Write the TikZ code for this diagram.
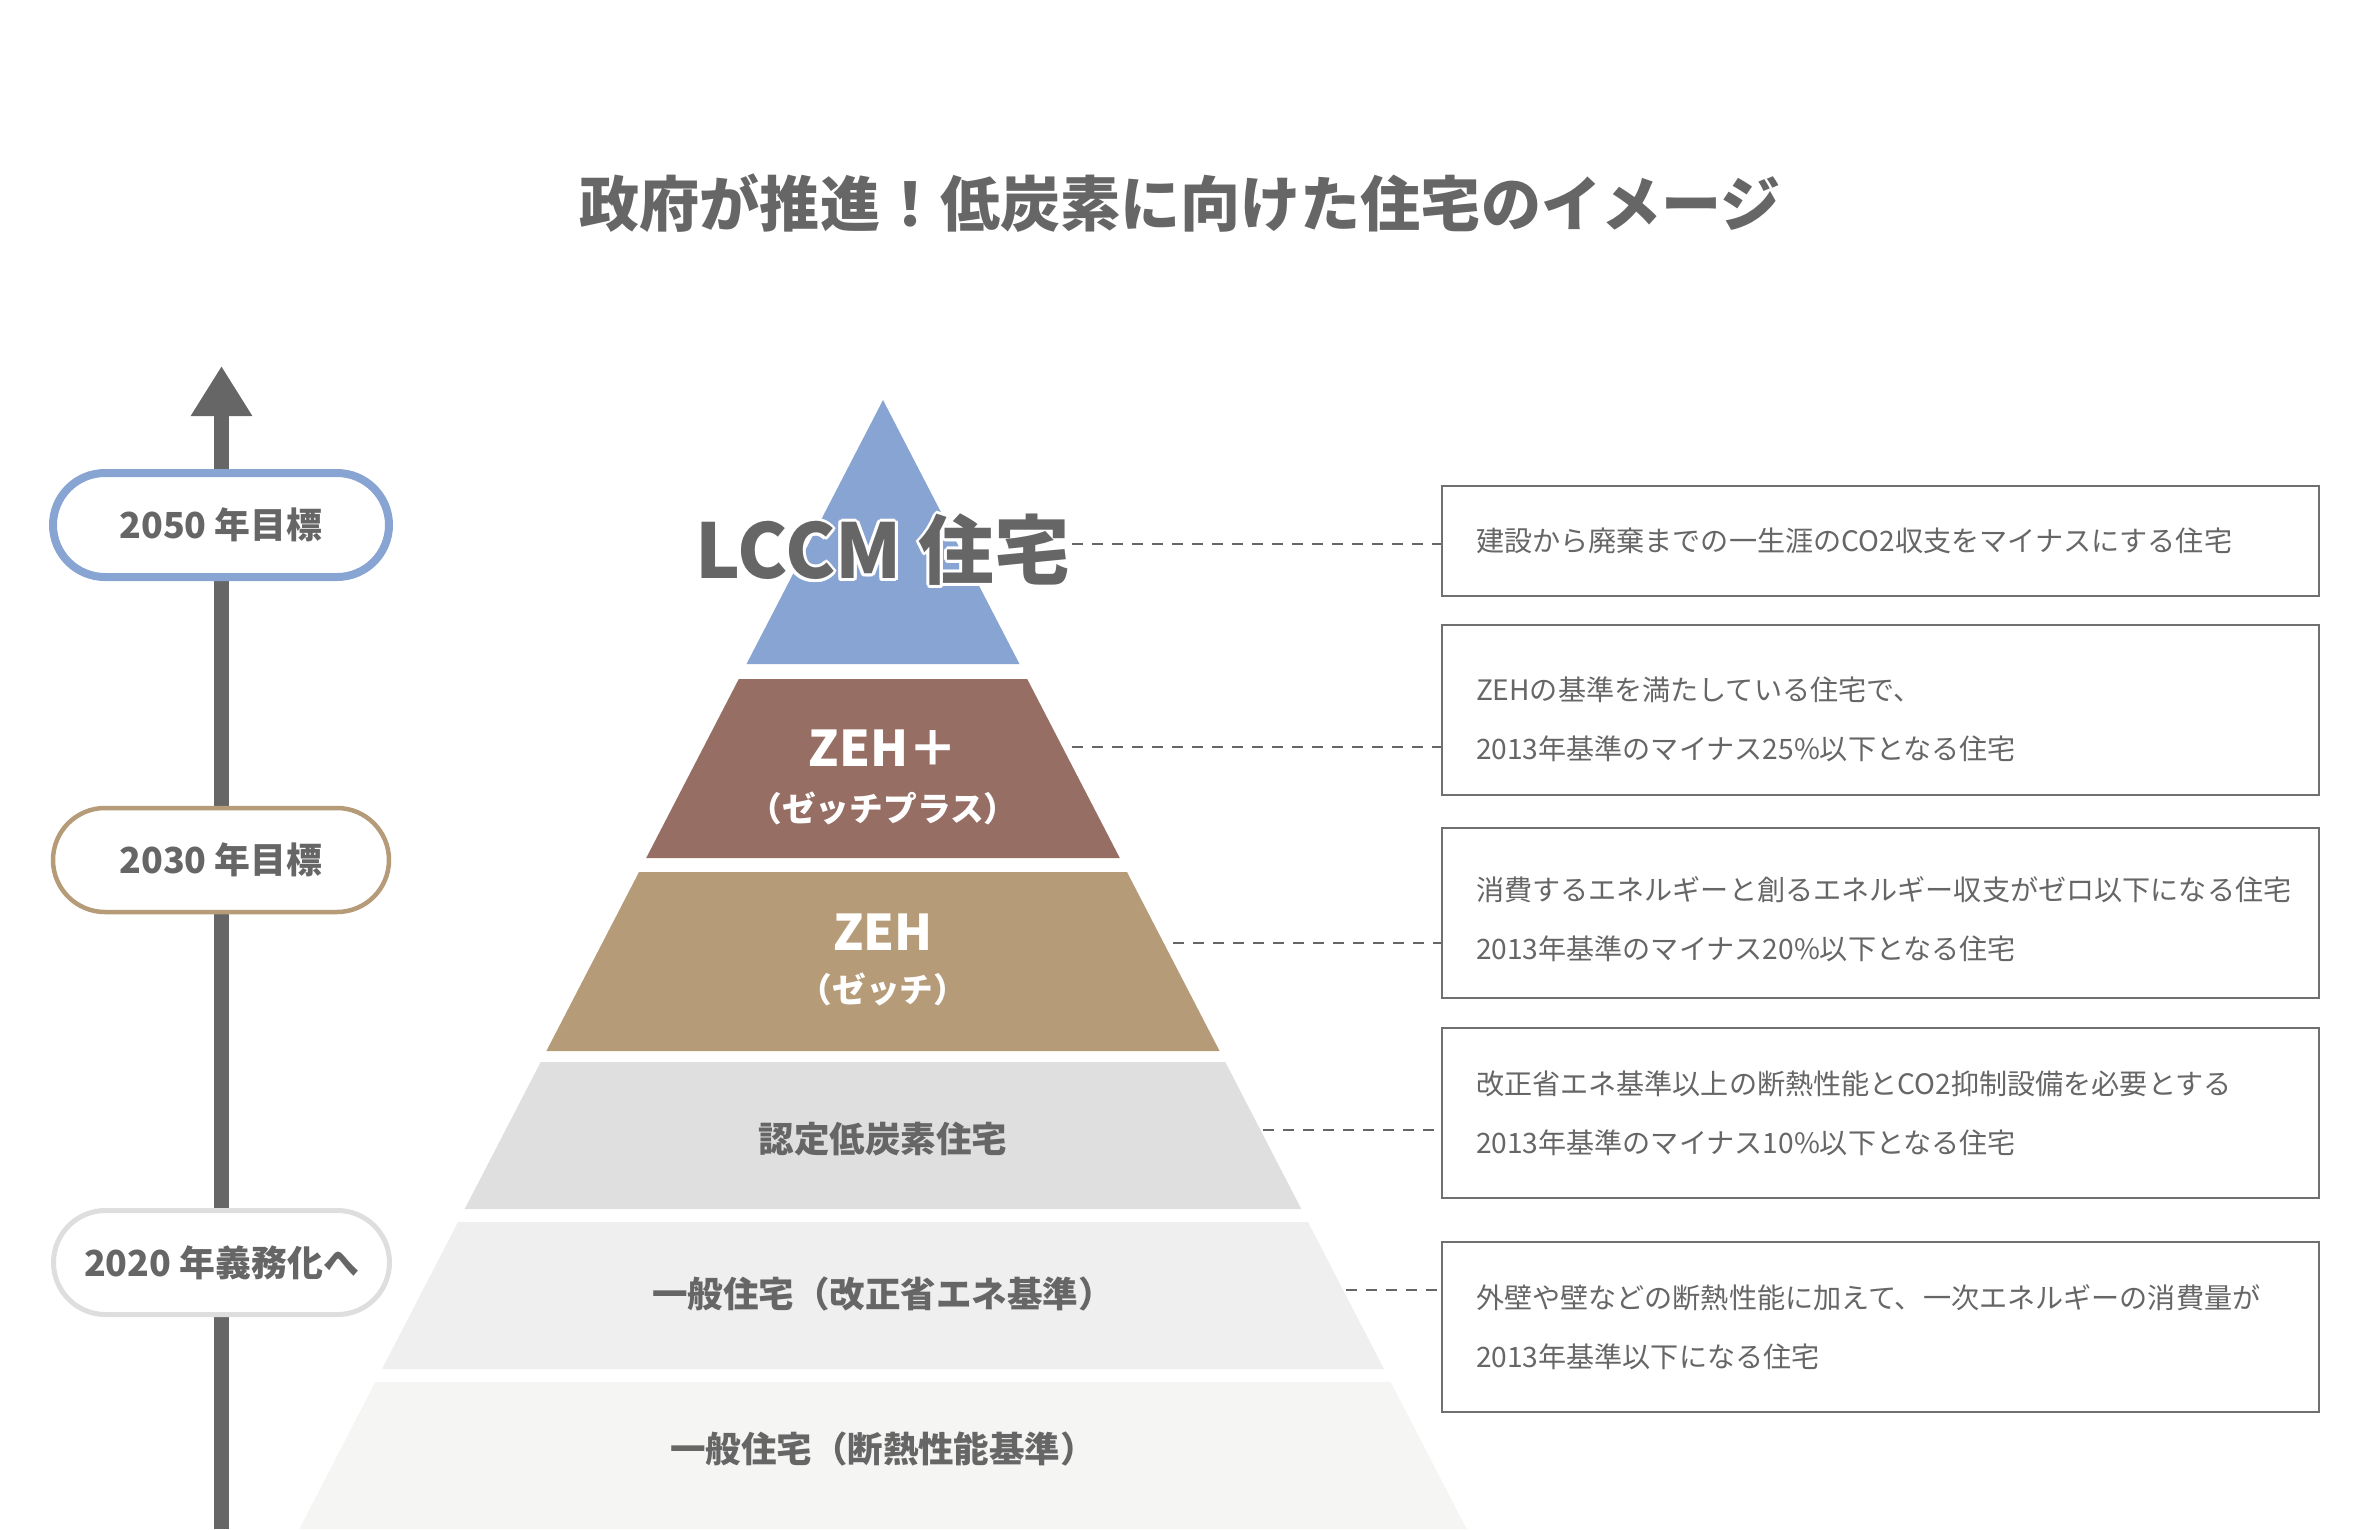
\documentclass[tikz,border=0pt]{standalone}
\usepackage{fontspec}
\setmainfont{Noto Sans CJK JP}
\usetikzlibrary{arrows.meta}

\definecolor{textgray}{HTML}{666666}
\definecolor{boxgray}{HTML}{707070}
\definecolor{lccmblue}{HTML}{88A4D2}
\definecolor{zehbrown}{HTML}{966E64}
\definecolor{zehtan}{HTML}{B59B78}
\definecolor{nintei}{HTML}{DFDFDF}
\definecolor{kaisei}{HTML}{EFEFEF}
\definecolor{dannetsu}{HTML}{F5F5F3}
\definecolor{pillgray}{HTML}{DEDEDE}

\begin{document}
\begin{tikzpicture}[
  every node/.style={align=center, inner sep=2pt},
  titletxt/.style={font=\fontsize{17.1}{20}\selectfont\bfseries, text=textgray},
  axisline/.style={draw=textgray, line width=0.15cm,
                   -{Triangle[width=0.58cm, length=0.50cm]}},
  pill/.style={rectangle, rounded corners=0.52cm, fill=white,
               minimum width=3.36cm, minimum height=1.04cm,
               font=\fontsize{10.2}{12}\selectfont\bfseries, text=textgray},
  bigtxt/.style={font=\fontsize{21.5}{24}\selectfont\bfseries, text=textgray},
  zehtxt/.style={font=\fontsize{14}{16}\selectfont\bfseries, text=white},
  subtxt/.style={font=\fontsize{9.6}{11}\selectfont\bfseries, text=white},
  layertxt/.style={font=\fontsize{10.1}{12}\selectfont\bfseries, text=textgray},
  descbox/.style={rectangle, draw=boxgray, line width=0.028cm, fill=white,
                  minimum width=8.77cm, minimum height=1.70cm,
                  text width=8.09cm, inner xsep=0.34cm, align=left,
                  font=\fontsize{8.0}{16.8}\selectfont, text=textgray},
  leader/.style={draw=textgray, line width=0.025cm,
                 dash pattern=on 0.11cm off 0.09cm}
]
\useasboundingbox (0,0) rectangle (23.6,-15.29);

% TITLE
\node[titletxt] (title) at (11.80,-2.03) {政府が推進！低炭素に向けた住宅のイメージ};

% TIME AXIS
\coordinate (axisbot) at (2.215,-15.29);
\coordinate (axistop) at (2.215,-3.66);
\draw[axisline] (axisbot) -- (axistop);

\node[pill, draw=lccmblue, line width=0.08cm] (p2050) at (2.21,-5.25) {2050 年目標};
\node[pill, draw=zehtan, line width=0.045cm] (p2030) at (2.21,-8.60) {2030 年目標};
\node[pill, draw=pillgray, line width=0.05cm] (p2020) at (2.215,-12.625) {2020 年義務化へ};

% PYRAMID
\fill[lccmblue] (8.83,-4.00) -- (10.195,-6.64) -- (7.465,-6.64) -- cycle;
\fill[zehbrown] (7.388,-6.79) -- (10.272,-6.79) -- (11.198,-8.58) -- (6.462,-8.58) -- cycle;
\fill[zehtan] (6.390,-8.72) -- (11.270,-8.72) -- (12.196,-10.51) -- (5.464,-10.51) -- cycle;
\fill[nintei] (5.407,-10.62) -- (12.253,-10.62) -- (13.013,-12.09) -- (4.647,-12.09) -- cycle;
\fill[kaisei] (4.580,-12.22) -- (13.080,-12.22) -- (13.840,-13.69) -- (3.820,-13.69) -- cycle;
\fill[dannetsu] (3.753,-13.82) -- (13.907,-13.82) -- (14.667,-15.29) -- (2.993,-15.29) -- cycle;

% LAYER LABELS
\foreach \ang in {0,30,...,330}
  \node[bigtxt, text=white, shift={(\ang:0.03)}] (halo\ang) at (8.83,-5.50) {LCCM 住宅};
\node[bigtxt] (lccm) at (8.83,-5.50) {LCCM 住宅};
\node[zehtxt] (zehp) at (8.83,-7.48) {ZEH＋};
\node[subtxt] (zehpsub) at (8.83,-8.08) {（ゼッチプラス）};
\node[zehtxt] (zeh) at (8.83,-9.32) {ZEH};
\node[subtxt] (zehsub) at (8.83,-9.89) {（ゼッチ）};
\node[layertxt] (ninteilbl) at (8.83,-11.39) {認定低炭素住宅};
\node[layertxt] (kaiseilbl) at (8.83,-12.94) {一般住宅（改正省エネ基準）};
\node[layertxt] (dannetsulbl) at (8.83,-14.49) {一般住宅（断熱性能基準）};

% DESCRIPTION BOXES
\node[descbox, minimum height=1.10cm] (box1) at (18.805,-5.41) {建設から廃棄までの一生涯のCO2収支をマイナスにする住宅};
\node[descbox] (box2) at (18.805,-7.10) {\rule{0pt}{12pt}ZEHの基準を満たしている住宅で、\\2013年基準のマイナス25\%以下となる住宅};
\node[descbox] (box3) at (18.805,-9.13) {\rule{0pt}{10.4pt}消費するエネルギーと創るエネルギー収支がゼロ以下になる住宅\\2013年基準のマイナス20\%以下となる住宅};
\node[descbox] (box4) at (18.805,-11.13) {改正省エネ基準以上の断熱性能とCO2抑制設備を必要とする\\2013年基準のマイナス10\%以下となる住宅};
\node[descbox] (box5) at (18.805,-13.27) {外壁や壁などの断熱性能に加えて、一次エネルギーの消費量が\\2013年基準以下になる住宅};

% LEADERS
\coordinate (c1) at (10.72,-5.44);
\coordinate (c2) at (10.72,-7.47);
\coordinate (c3) at (11.73,-9.43);
\coordinate (c4) at (12.63,-11.30);
\coordinate (c5) at (13.46,-12.90);
\draw[leader] (c1) -- (c1 -| box1.west);
\draw[leader] (c2) -- (c2 -| box2.west);
\draw[leader] (c3) -- (c3 -| box3.west);
\draw[leader] (c4) -- (c4 -| box4.west);
\draw[leader] (c5) -- (c5 -| box5.west);
\end{tikzpicture}
\end{document}
